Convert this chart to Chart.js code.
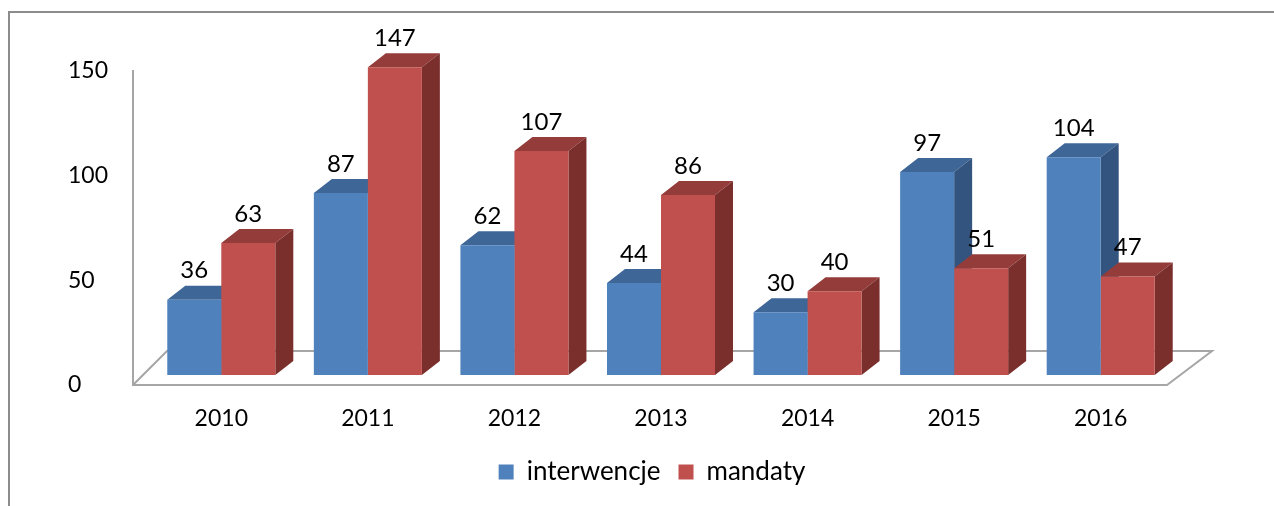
<!DOCTYPE html>
<html>
<head>
<meta charset="utf-8">
<script src="https://cdn.jsdelivr.net/npm/chart.js@4/dist/chart.umd.min.js"></script>
<style>
  html, body { margin: 0; padding: 0; background: #fff; }
  #wrap { width: 1274px; height: 506px; }
</style>
</head>
<body>
<div id="wrap"><canvas id="chart"></canvas></div>
<script>
  const years = ['2010', '2011', '2012', '2013', '2014', '2015', '2016'];
  const interwencje = [36, 87, 62, 44, 30, 97, 104];
  const mandaty = [63, 147, 107, 86, 40, 51, 47];
  const yTicks = [0, 50, 100, 150];

  // depth of the fake 3D faces
  const DX = 18, DY = 14;
  const faceColors = [
    { top: '#3E6696', side: '#33547E' },
    { top: '#943C3A', side: '#7A2F2D' }
  ];

  // frame, floor, axis line and the 3D top/side faces
  const bars3d = {
    id: 'bars3d',
    afterLayout(chart) {
      // legend sits a bit right of the plot centre in the original
      chart.legend.left += 31;
      chart.legend.right += 31;
    },
    beforeDraw(chart) {
      const ctx = chart.ctx;
      ctx.save();
      ctx.strokeStyle = '#8C8C8C';
      ctx.lineWidth = 2;
      ctx.beginPath();
      ctx.moveTo(9, 506);
      ctx.lineTo(9, 12);
      ctx.lineTo(1274, 12);
      ctx.stroke();
      ctx.restore();
    },
    beforeDatasetsDraw(chart) {
      const ctx = chart.ctx;
      const a = chart.chartArea;
      const y0 = chart.scales.y.getPixelForValue(0);
      const yTop = chart.scales.y.getPixelForValue(150);
      const fy = y0 + 10, by = fy - 34;
      const fl = a.left - 15, fr = a.right - 7;
      ctx.save();
      ctx.strokeStyle = '#A6A6A6';
      ctx.lineWidth = 2;
      ctx.beginPath();
      ctx.moveTo(fl, yTop + 9);
      ctx.lineTo(fl, fy);
      ctx.lineTo(fr, fy);
      ctx.lineTo(fr + 45, by);
      ctx.lineTo(fl + 34, by);
      ctx.lineTo(fl, fy);
      ctx.stroke();

      chart.data.datasets.forEach((ds, di) => {
        const meta = chart.getDatasetMeta(di);
        meta.data.forEach(bar => {
          const l = bar.x - bar.width / 2, r = bar.x + bar.width / 2;
          const t = bar.y, b = bar.base;
          ctx.fillStyle = faceColors[di].top;
          ctx.beginPath();
          ctx.moveTo(l, t);
          ctx.lineTo(l + DX, t - DY);
          ctx.lineTo(r + DX, t - DY);
          ctx.lineTo(r, t);
          ctx.closePath();
          ctx.fill();
          ctx.fillStyle = faceColors[di].side;
          ctx.beginPath();
          ctx.moveTo(r, t);
          ctx.lineTo(r + DX, t - DY);
          ctx.lineTo(r + DX, b - DY);
          ctx.lineTo(r, b);
          ctx.closePath();
          ctx.fill();
        });
      });
      ctx.restore();
    },
    afterDatasetsDraw(chart) {
      const ctx = chart.ctx;
      ctx.save();
      ctx.font = '24px Lato';
      ctx.fillStyle = '#000';
      ctx.textAlign = 'center';
      ctx.textBaseline = 'middle';
      chart.data.datasets.forEach((ds, di) => {
        chart.getDatasetMeta(di).data.forEach((bar, i) => {
          ctx.fillText(String(ds.data[i]), bar.x, bar.y - 29);
        });
      });
      ctx.restore();
    }
  };

  new Chart(document.getElementById('chart'), {
    type: 'bar',
    data: {
      labels: years,
      datasets: [
        { label: 'interwencje', data: interwencje, backgroundColor: '#4F81BD',
          barPercentage: 1, categoryPercentage: 0.737 },
        { label: 'mandaty', data: mandaty, backgroundColor: '#C0504D',
          barPercentage: 1, categoryPercentage: 0.737 }
      ]
    },
    options: {
      responsive: true,
      maintainAspectRatio: false,
      animation: false,
      layout: { padding: { left: 68, right: 100, top: 61, bottom: 11 } },
      plugins: {
        tooltip: { enabled: false },
        legend: {
          position: 'bottom',
          labels: {
            boxWidth: 15, boxHeight: 15, padding: 18,
            color: '#000', font: { family: 'Lato', size: 26 }
          }
        }
      },
      scales: {
        x: {
          grid: { display: false },
          border: { display: false },
          ticks: { color: '#000', padding: 22, font: { family: 'Lato', size: 23 } },
          afterFit(s) { s.height = 66; }
        },
        y: {
          min: 0, max: 150,
          afterBuildTicks(s) { s.ticks = yTicks.map(v => ({ value: v })); },
          afterFit(s) { s.width = 80; },
          grid: { display: false },
          border: { display: false },
          ticks: { color: '#000', crossAlign: 'far', labelOffset: 10,
                   font: { family: 'Lato', size: 23 } }
        }
      }
    },
    plugins: [bars3d]
  });
</script>
</body>
</html>
